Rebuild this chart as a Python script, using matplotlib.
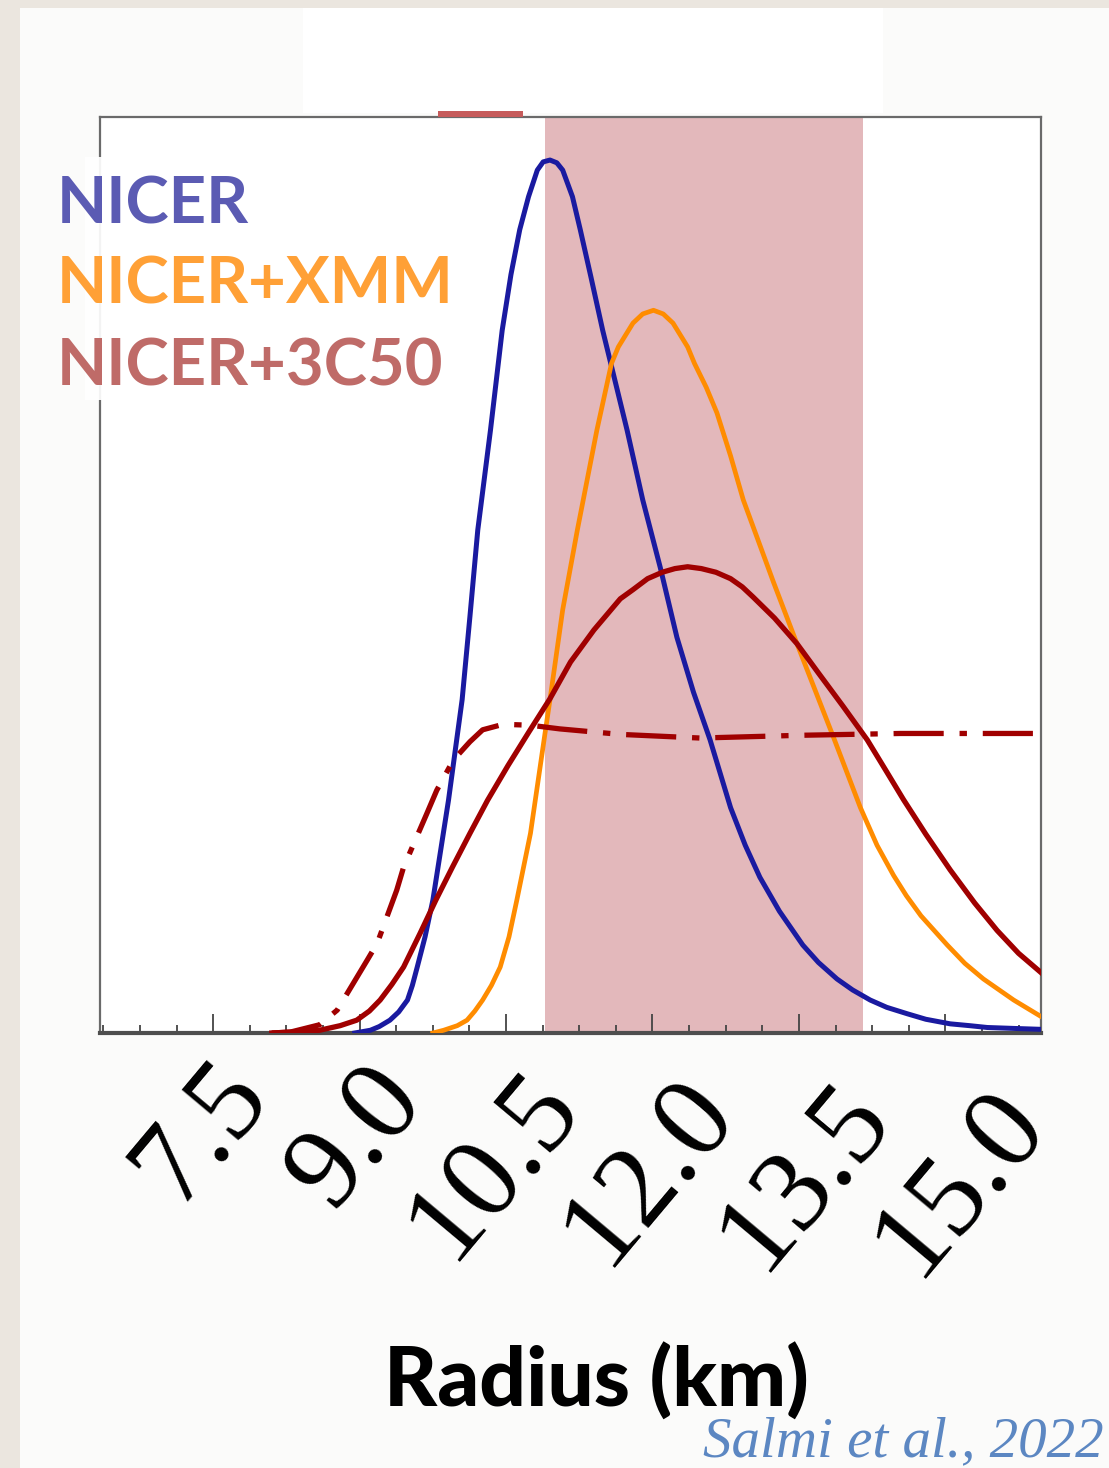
"""Radius posteriors: NICER vs NICER+XMM vs NICER+3C50 (Salmi et al. 2022 slide)."""

import matplotlib

matplotlib.use("Agg")
import matplotlib.pyplot as plt
from matplotlib.patches import Rectangle
from matplotlib.ticker import MultipleLocator
from matplotlib.transforms import ScaledTranslation

W, H = 1109, 1468

# --- data (radius in km, normalised density) ---
nicer_r = [8.95, 9.11, 9.20, 9.31, 9.40, 9.49, 9.54, 9.59, 9.67, 9.75, 9.91, 10.05,
           10.13, 10.21, 10.34, 10.46, 10.55, 10.64, 10.73, 10.82, 10.88, 10.95,
           11.02, 11.08, 11.18, 11.26, 11.37, 11.49, 11.74, 11.90, 12.08, 12.25,
           12.42, 12.59, 12.80, 12.95, 13.10, 13.30, 13.54, 13.70, 13.89, 14.05,
           14.23, 14.40, 14.61, 14.80, 15.05, 15.25, 15.43, 15.70, 15.98]
nicer_p = [0.000, 0.003, 0.007, 0.014, 0.023, 0.036, 0.052, 0.072, 0.105, 0.145, 0.254, 0.364,
           0.455, 0.549, 0.658, 0.767, 0.828, 0.877, 0.913, 0.942, 0.951, 0.953,
           0.950, 0.942, 0.913, 0.877, 0.825, 0.767, 0.658, 0.582, 0.508, 0.432,
           0.372, 0.320, 0.246, 0.205, 0.170, 0.133, 0.096, 0.077, 0.059, 0.047,
           0.036, 0.028, 0.021, 0.015, 0.010, 0.008, 0.006, 0.005, 0.004]

xmm_r = [9.75, 9.86, 10.00, 10.10, 10.18, 10.26, 10.35, 10.44, 10.53, 10.61, 10.75,
         10.90, 10.95, 11.08, 11.23, 11.43, 11.58, 11.65, 11.80, 11.90, 12.01, 12.11,
         12.21, 12.36, 12.43, 12.55, 12.66, 12.80, 12.93, 13.24, 13.48, 13.85, 14.13,
         14.30, 14.47, 14.60, 14.75, 15.02, 15.20, 15.39, 15.70, 15.98]
xmm_p = [0.000, 0.003, 0.008, 0.014, 0.024, 0.036, 0.052, 0.072, 0.105, 0.145, 0.218,
         0.328, 0.364, 0.462, 0.549, 0.658, 0.731, 0.749, 0.775, 0.785, 0.789, 0.785,
         0.775, 0.749, 0.731, 0.705, 0.677, 0.630, 0.582, 0.492, 0.425, 0.324, 0.246,
         0.205, 0.172, 0.150, 0.128, 0.096, 0.076, 0.059, 0.036, 0.018]

c50_r = [8.10, 8.29, 8.45, 8.59, 8.80, 8.97, 9.10, 9.21, 9.33, 9.45, 9.62, 9.78, 9.95,
         10.13, 10.31, 10.52, 10.73, 10.95, 11.16, 11.40, 11.67, 11.80, 11.95, 12.10,
         12.23, 12.36, 12.50, 12.65, 12.80, 12.92, 13.03, 13.25, 13.48, 13.70, 13.95,
         14.20, 14.40, 14.57, 14.80, 15.05, 15.30, 15.53, 15.75, 15.98]
c50_p = [0.000, 0.001, 0.002, 0.003, 0.008, 0.014, 0.024, 0.036, 0.053, 0.072, 0.109,
         0.145, 0.181, 0.218, 0.254, 0.292, 0.328, 0.365, 0.405, 0.440, 0.474, 0.484,
         0.496, 0.503, 0.507, 0.509, 0.507, 0.503, 0.496, 0.487, 0.476, 0.453, 0.425,
         0.393, 0.357, 0.320, 0.285, 0.255, 0.217, 0.178, 0.142, 0.112, 0.087, 0.066]

prior_r = [8.10, 8.29, 8.59, 8.77, 9.08, 9.18, 9.38, 9.45, 9.69, 9.79, 9.96, 10.13,
           10.26, 10.47, 10.75, 11.05, 11.67, 12.49, 13.51, 14.54, 15.98]
prior_p = [0.000, 0.001, 0.009, 0.025, 0.080, 0.098, 0.156, 0.181, 0.240, 0.265, 0.298,
           0.318, 0.331, 0.337, 0.336, 0.332, 0.326, 0.322, 0.325, 0.327, 0.327]

band = (10.9, 14.16)
tick_vals = [7.5, 9.0, 10.5, 12.0, 13.5, 15.0]
tick_labels = ["7.5", "9.0", "10.5", "12.0", "13.5", "15.0"]
legend_names = ["NICER", "NICER+XMM", "NICER+3C50"]
legend_colors = ["#5b5bb3", "#ffa036", "#bf6b68"]


def fx(px):
    return px / W


def fy(py):
    return 1 - py / H


fig = plt.figure(figsize=(W / 100, H / 100), dpi=100)
fig.patch.set_facecolor("#ebe6df")
fig.add_artist(Rectangle((fx(20), 0), 1, fy(8), transform=fig.transFigure,
                         facecolor="#fbfbfa", edgecolor="none", zorder=-2))
fig.add_artist(Rectangle((fx(303), fy(113)), fx(580), 105 / H, transform=fig.transFigure,
                         facecolor="white", edgecolor="none", zorder=-1))

ax = fig.add_axes([fx(100), fy(1033), fx(941), 916 / H])
ax.set_facecolor("white")
ax.axvspan(*band, color="#e3b8bb", lw=0, zorder=1)

ax.plot(nicer_r, nicer_p, color="#1a1aa0", lw=3.6, zorder=3)
ax.plot(xmm_r, xmm_p, color="#ff8c00", lw=3.4, zorder=3)
ax.plot(c50_r, c50_p, color="#a00000", lw=3.8, zorder=3)
ax.plot(prior_r, prior_p, color="#a00000", lw=3.8, ls=(0, (9.5, 3.0, 1.4, 3.0)), zorder=3)

ax.set_xlim(6.34, 15.98)
ax.set_ylim(0, 1)
ax.set_yticks([])

for side in ["left", "top", "right"]:
    ax.spines[side].set_color("#6a6a6a")
    ax.spines[side].set_linewidth(1.6)
ax.spines["bottom"].set_color("#4e4e4e")
ax.spines["bottom"].set_linewidth(3.0)

ax.set_xticks(tick_vals)
ax.xaxis.set_minor_locator(MultipleLocator(0.375))
ax.tick_params(axis="x", which="major", direction="in", length=14, width=1.3,
               color="#444444", pad=0)
ax.tick_params(axis="x", which="minor", direction="in", length=6, width=1.3,
               color="#444444")
ax.set_xticklabels(tick_labels, rotation=50, ha="right", va="baseline",
                   rotation_mode="anchor", fontsize=84, family="Liberation Serif")
# on the slide the labels sit a little apart from their ticks, fanning out to the right
for k, lab in enumerate(ax.get_xticklabels()):
    shift = ScaledTranslation(0.57 + 0.09 * k, -0.62 - 0.054 * k, fig.dpi_scale_trans)
    lab.set_transform(lab.get_transform() + shift)

# white patch behind the legend words hides part of the left spine
fig.add_artist(Rectangle((fx(85), fy(400)), fx(30), 243 / H, transform=fig.transFigure,
                         facecolor="white", edgecolor="none", alpha=0.93, zorder=5))
# stray red mark above the frame
fig.add_artist(Rectangle((fx(438), fy(117)), fx(85), 6 / H, transform=fig.transFigure,
                         facecolor="#c65b5b", edgecolor="none", zorder=5))

for name, col, base in zip(legend_names, legend_colors, [224, 303, 385]):
    fig.text(fx(57), fy(base), name, color=col, fontsize=47, fontweight="bold",
             family="Lato", va="baseline", ha="left", zorder=6)

fig.text(fx(596), fy(1407), "Radius (km)", ha="center", va="baseline",
         fontsize=59, fontweight="black", family="Lato")
fig.text(fx(1104), fy(1456), "Salmi et al., 2022", ha="right", va="baseline",
         fontsize=41, style="italic", family="Liberation Serif", color="#5c87c2")

fig.savefig("out.png", dpi=100, facecolor=fig.get_facecolor())
